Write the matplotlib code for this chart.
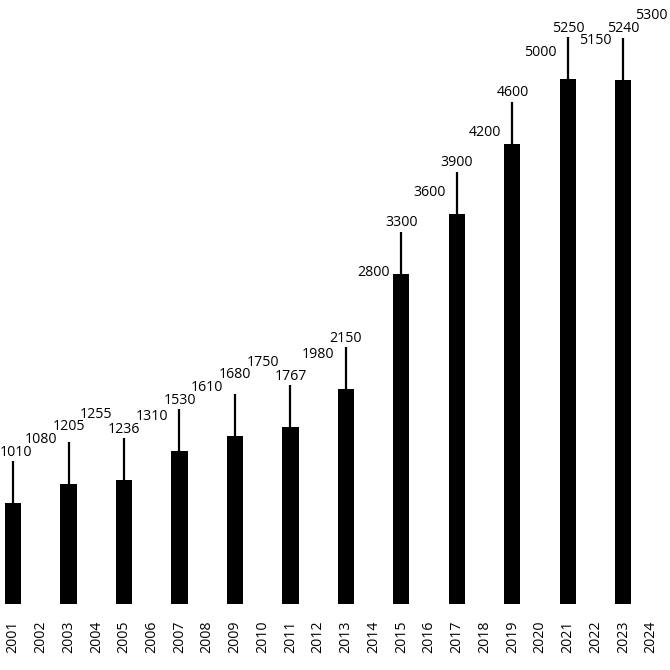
import numpy as np
import matplotlib
matplotlib.use("Agg")
import matplotlib.pyplot as plt

plt.rcParams['font.family'] = ['Open Sans', 'DejaVu Sans']

years = [2001, 2002, 2003, 2004, 2005, 2006, 2007, 2008, 2009, 2010, 2011, 2012,
         2013, 2014, 2015, 2016, 2017, 2018, 2019, 2020, 2021, 2022, 2023, 2024]
values = [1010, 1080, 1205, 1255, 1236, 1310, 1530, 1610, 1680, 1750, 1767, 1980,
          2150, 2800, 3300, 3600, 3900, 4200, 4600, 5000, 5250, 5150, 5240, 5300]

stem = 420       # leader line length, in data units
label_gap = 510  # label centre above the value, data units
min_sep = 12.5   # px between neighbouring labels

fig = plt.figure(figsize=(6.7, 6.7), dpi=100)
ax = fig.add_axes([0, 66 / 670, 1, 604 / 670])

x = np.array(years)
v = np.array(values)
odd = x % 2 == 1

# bars only on the odd years, with a thin line above each one
ax.bar(x[odd], v[odd], width=0.58, color='black')
ax.vlines(x[odd], v[odd], v[odd] + stem, color='black', lw=1.6)

ax.set_xlim(2000.53, 2024.68)
ax.set_ylim(0, 6040)

labels = []
for xi, vi in zip(x, v):
    t = ax.text(xi, vi + label_gap, str(vi), ha='center', va='center',
                fontsize=10.2, color='black', clip_on=False)
    labels.append(t)

# keep labels inside the canvas, then nudge neighbours apart
fig.canvas.draw()
r = fig.canvas.get_renderer()
inv = ax.transData.inverted()
W = fig.bbox.width
prev_y, prev_v = None, None
for t, vi in zip(labels, v):
    px, py = ax.transData.transform(t.get_position())
    bb = t.get_window_extent(r)
    if bb.x0 < 0:
        px -= bb.x0
    elif bb.x1 > W:
        px -= bb.x1 - W
    if prev_y is not None and abs(py - prev_y) < min_sep:
        if vi >= prev_v:
            py = prev_y + min_sep
        else:
            py = prev_y - min_sep
    t.set_position(inv.transform((px, py)))
    prev_y, prev_v = py, vi

ax.set_xticks(years)
ax.set_xticklabels([str(y) for y in years], rotation=90, fontsize=10.2)
ax.tick_params(axis='x', length=0, pad=12)
ax.set_yticks([])
for s in ax.spines.values():
    s.set_visible(False)

fig.savefig('out.png', dpi=100)
